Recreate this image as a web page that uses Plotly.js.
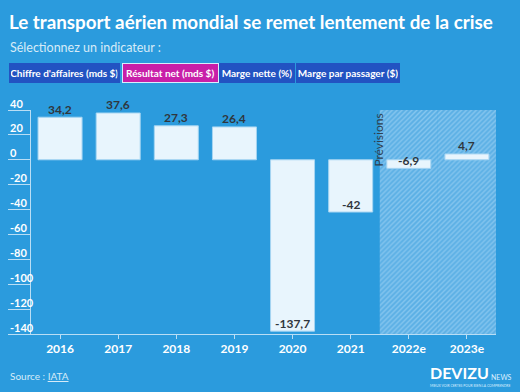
<!DOCTYPE html>
<html>
<head>
<meta charset="utf-8">
<script src="https://cdn.plot.ly/plotly-3.0.1.min.js"></script>
<style>html,body{margin:0;padding:0;background:#2b9bdd;}#chart{width:520px;height:392px;}</style>
</head>
<body>
<div id="chart"></div>
<script>
// ---- data ----
const categories = ['2016', '2017', '2018', '2019', '2020', '2021', '2022e', '2023e'];
const netResult = [34.2, 37.6, 27.3, 26.4, -137.7, -42, -6.9, 4.7];
const forecastCategories = ['2022e', '2023e'];
const yTicks = [40, 20, 0, -20, -40, -60, -80, -100, -120, -140];
const buttonLabels = ['Chiffre d\'affaires (mds $)', 'Résultat net (mds $)', 'Marge nette (%)', 'Marge par passager ($)'];
const activeButton = 1;

// ---- styles ----
const FONT = 'Lato, "Open Sans", sans-serif';
const BG = '#2b9bdd';
const AXIS = '#b9def5';
const yRange = [-140, 40];
const W = 520, H = 392;
const M = {l: 31, r: 24.3, t: 110, b: 57.7};
const plotW = W - M.l - M.r, plotH = H - M.t - M.b;
const px2x = p => (p - M.l) / plotW;
const py2y = p => (H - M.b - p) / plotH;

const fmt = v => String(v).replace('.', ',');

const forecastTrace = {
  type: 'bar',
  x: forecastCategories,
  y: forecastCategories.map(() => yRange[1] - yRange[0]),
  base: forecastCategories.map(() => yRange[0]),
  width: forecastCategories.map(() => 1),
  marker: {
    color: '#62b4e7',
    line: {width: 0},
    pattern: {shape: '/', bgcolor: '#5cb0e5', fgcolor: '#86c6ef', size: 3.5, solidity: 0.4}
  },
  hoverinfo: 'skip',
  showlegend: false
};

const dataTrace = {
  type: 'bar',
  x: categories,
  y: netResult,
  marker: {color: '#e8f5fd', line: {color: '#a6d5f2', width: 1}},
  hoverinfo: 'skip',
  showlegend: false
};

const annotations = [];

// value labels (x given as category index)
categories.forEach((c, i) => {
  annotations.push({
    x: i, y: netResult[i], xref: 'x', yref: 'y',
    text: '<b>' + fmt(netResult[i]) + '</b>',
    showarrow: false, yanchor: 'middle', yshift: 8,
    font: {family: FONT, size: 12, color: '#30363c'}
  });
});

// y tick labels (above tick lines)
yTicks.forEach(t => {
  annotations.push({
    x: 0, xref: 'paper', xshift: -23, xanchor: 'left',
    y: t, yref: 'y', yanchor: 'middle', yshift: 7,
    text: '<b>' + t + '</b>', showarrow: false,
    font: {family: FONT, size: 11, color: '#ffffff'}
  });
});

// Prévisions label
annotations.push({
  x: categories.indexOf(forecastCategories[0]) - 0.5, xref: 'x', y: 16, yref: 'y', xshift: -1,
  text: 'Prévisions', textangle: -90, showarrow: false,
  font: {family: FONT, size: 12, color: '#2f4050'}
});

// subtitle
annotations.push({
  x: px2x(8), xref: 'paper', xanchor: 'left',
  y: py2y(47), yref: 'paper', yanchor: 'middle',
  text: 'Sélectionnez un indicateur :', showarrow: false,
  font: {family: FONT, size: 12.5, color: '#d6ebf8'}
});

// buttons
const btnEdges = [[9.5, 120], [122, 218.5], [219, 295], [295.5, 399.5]];
buttonLabels.forEach((lab, i) => {
  const [a, b] = btnEdges[i];
  const active = i === activeButton;
  annotations.push({
    x: px2x((a + b) / 2), xref: 'paper', xanchor: 'center',
    y: py2y(72.8), yref: 'paper', yanchor: 'middle',
    text: '<b>' + lab + '</b>', showarrow: false,
    width: b - a - 4, height: 15.5, borderpad: 1,
    bgcolor: active ? '#c81fa8' : '#2253c2',
    bordercolor: active ? '#d7eefc' : '#2253c2', borderwidth: 1,
    font: {family: FONT, size: 10, color: '#ffffff'}
  });
});

// source
annotations.push({
  x: px2x(8), xref: 'paper', xanchor: 'left',
  y: py2y(376), yref: 'paper', yanchor: 'middle',
  text: 'Source : <u>IATA</u>', showarrow: false,
  font: {family: FONT, size: 10, color: '#d6ebf8'}
});

// logo
annotations.push({
  x: px2x(429), xref: 'paper', xanchor: 'left',
  y: py2y(373), yref: 'paper', yanchor: 'middle',
  text: '<b>DEVIZU</b>', showarrow: false, borderpad: 0,
  font: {family: FONT, size: 16, color: '#ffffff'}
});
annotations.push({
  x: px2x(490), xref: 'paper', xanchor: 'left',
  y: py2y(377), yref: 'paper', yanchor: 'middle',
  text: 'NEWS', showarrow: false, borderpad: 0,
  font: {family: FONT, size: 7, color: '#dcefff'}
});
annotations.push({
  x: px2x(429), xref: 'paper', xanchor: 'left',
  y: py2y(386.5), yref: 'paper', yanchor: 'middle',
  text: 'MIEUX VOIR CERTES POUR BIEN LA COMPRENDRE', showarrow: false, borderpad: 0,
  font: {family: FONT, size: 3.4, color: '#dcefff'}
});

const layout = {
  width: W, height: H,
  margin: M,
  paper_bgcolor: BG, plot_bgcolor: BG,
  barmode: 'overlay', bargap: 0.243,
  font: {family: FONT},
  title: {
    text: '<b>Le transport aérien mondial se remet lentement de la crise</b>',
    xref: 'container', x: 9 / W, xanchor: 'left',
    yref: 'container', y: 1 - 22 / H, yanchor: 'middle',
    font: {family: FONT, size: 18.8, color: '#ffffff'}
  },
  xaxis: {
    type: 'category', categoryorder: 'array', categoryarray: categories,
    range: [-0.5, categories.length - 0.5], autorange: false,
    showline: true, linecolor: AXIS, linewidth: 1,
    ticks: 'outside', ticklen: 4, tickcolor: AXIS,
    tickfont: {family: FONT, size: 12, color: '#ffffff', weight: 'bold'},
    showgrid: false, zeroline: false, fixedrange: true, automargin: false
  },
  yaxis: {
    range: yRange, autorange: false, tickvals: yTicks, showticklabels: false,
    showline: true, linecolor: AXIS, linewidth: 1,
    ticks: 'outside', ticklen: 22, tickcolor: AXIS,
    showgrid: false, zeroline: false, fixedrange: true, automargin: false
  },
  annotations: annotations
};

Plotly.newPlot('chart', [forecastTrace, dataTrace], layout, {displayModeBar: false, staticPlot: true});
</script>
</body>
</html>
